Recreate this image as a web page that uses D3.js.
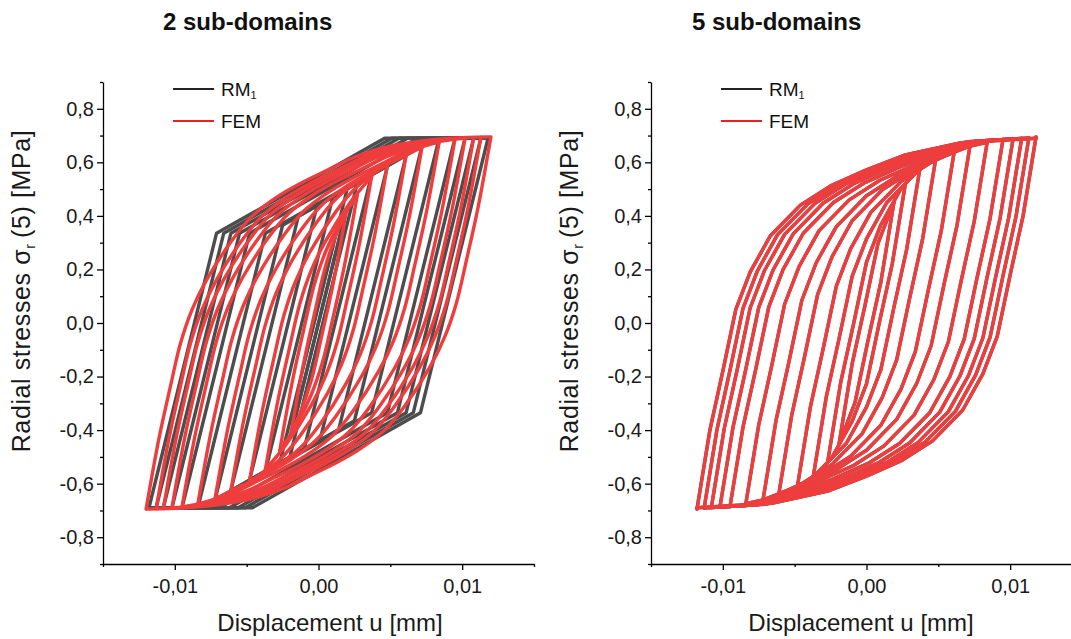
<!DOCTYPE html>
<html>
<head>
<meta charset="utf-8">
<script src="https://cdn.jsdelivr.net/npm/d3@7"></script>
<style>
body { margin: 0; background: #fff; }
svg { font-family: "Liberation Sans", Arial, sans-serif; }
</style>
</head>
<body>
<svg id="chart" width="1071" height="639"></svg>
<script>
/* Hysteresis loops: radial stress vs displacement, RM1 model against FEM */

// axes
var xDomain = [-0.015, 0.015];
var yDomain = [-0.9, 0.9];
var xMajor = [-0.01, 0, 0.01];
var xMinor = [-0.015, -0.005, 0.005, 0.015];
var yMajor = [-0.8, -0.6, -0.4, -0.2, 0, 0.2, 0.4, 0.6, 0.8];
var yMinor = [-0.9, -0.7, -0.5, -0.3, -0.1, 0.1, 0.3, 0.5, 0.7, 0.9];
var titles = ["2 sub-domains", "5 sub-domains"];
var seriesNames = ["RM", "FEM"];

// ---- 2 sub-domains, RM1 (piecewise linear) ----
var rm2Upper = [[-0.0118,-0.69],[-0.0071,0.335],[0.0046,0.69],[0.0118,0.69]];
var rm2Lower = [[-0.0118,-0.69],[-0.0046,-0.69],[0.0071,-0.335],[0.0118,0.69]];
var rm2Reload = [
	[[-0.0113,-0.69],[-0.0066,0.335],[0.0051,0.69],[0.0113,0.69]],
	[[-0.0108,-0.69],[-0.0061,0.335],[0.0056,0.69],[0.0108,0.69]],
	[[-0.0102,-0.69],[-0.0055,0.335],[0.0062,0.69],[0.0102,0.69]],
	[[-0.0095,-0.69],[-0.0048,0.335],[0.0069,0.69],[0.0095,0.69]],
	[[-0.0084,-0.69],[-0.0037,0.335],[0.0080,0.69],[0.0084,0.69]],
	[[-0.0072,-0.66],[-0.0025,0.365],[0.0072,0.66]],
	[[-0.0061,-0.626],[-0.0014,0.399],[0.0061,0.626]],
	[[-0.0048,-0.587],[-0.0001,0.438],[0.0048,0.587]],
	[[-0.0037,-0.554],[0.0010,0.471],[0.0037,0.554]],
	[[-0.0027,-0.523],[0.0020,0.502],[0.0027,0.523]],
	[[-0.0019,-0.415],[0.0019,0.415]]
];
var rm2Unload = [
	[[0.0113,0.69],[0.0066,-0.335],[-0.0051,-0.69],[-0.0113,-0.69]],
	[[0.0108,0.69],[0.0061,-0.335],[-0.0056,-0.69],[-0.0108,-0.69]],
	[[0.0102,0.69],[0.0055,-0.335],[-0.0062,-0.69],[-0.0102,-0.69]],
	[[0.0095,0.69],[0.0048,-0.335],[-0.0069,-0.69],[-0.0095,-0.69]],
	[[0.0084,0.69],[0.0037,-0.335],[-0.0080,-0.69],[-0.0084,-0.69]],
	[[0.0072,0.66],[0.0025,-0.365],[-0.0072,-0.66]],
	[[0.0061,0.626],[0.0014,-0.399],[-0.0061,-0.626]],
	[[0.0048,0.587],[0.0001,-0.438],[-0.0048,-0.587]],
	[[0.0037,0.554],[-0.0010,-0.471],[-0.0037,-0.554]],
	[[0.0027,0.523],[-0.0020,-0.502],[-0.0027,-0.523]],
	[[0.0019,0.415],[-0.0019,-0.415]]
];

// ---- 2 sub-domains, FEM ----
var fem2Upper = [[-0.0120,-0.695],[-0.0111,-0.43],[-0.0103,-0.235],[-0.0096,-0.075],[-0.0088,0.05],[-0.0078,0.16],
	[-0.0060,0.31],[-0.0046,0.40],[-0.0029,0.47],[-0.0013,0.52],[0.0006,0.57],[0.0024,0.617],[0.0045,0.654],
	[0.0068,0.677],[0.0093,0.69],[0.0119,0.695]];
var fem2Lower = [[-0.0119,-0.695],[-0.0093,-0.69],[-0.0068,-0.677],[-0.0045,-0.654],[-0.0024,-0.617],[-0.0006,-0.57],
	[0.0013,-0.52],[0.0029,-0.47],[0.0046,-0.40],[0.0060,-0.31],[0.0078,-0.16],[0.0088,-0.05],[0.0096,0.075],
	[0.0103,0.235],[0.0111,0.43],[0.0120,0.695]];
var fem2Reload = [
	[[-0.0113,-0.694],[-0.0104,-0.429],[-0.0096,-0.234],[-0.0089,-0.074],[-0.0081,0.051],[-0.0071,0.161],[-0.0053,0.311],[-0.0039,0.401],[-0.0022,0.471],[-0.0006,0.521],[0.0013,0.571],[0.0031,0.618],[0.0052,0.655],[0.0075,0.678]],
	[[-0.0108,-0.693],[-0.0099,-0.428],[-0.0091,-0.233],[-0.0084,-0.073],[-0.0076,0.052],[-0.0066,0.162],[-0.0048,0.312],[-0.0034,0.402],[-0.0017,0.472],[-0.0001,0.522],[0.0018,0.572],[0.0036,0.619],[0.0057,0.656],[0.0080,0.679]],
	[[-0.0102,-0.690],[-0.0093,-0.425],[-0.0085,-0.230],[-0.0078,-0.070],[-0.0070,0.055],[-0.0060,0.165],[-0.0042,0.315],[-0.0028,0.405],[-0.0011,0.475],[0.0005,0.525],[0.0024,0.575],[0.0042,0.622],[0.0063,0.659],[0.0086,0.682],[0.0102,0.690]],
	[[-0.0095,-0.687],[-0.0086,-0.422],[-0.0078,-0.227],[-0.0071,-0.067],[-0.0063,0.058],[-0.0053,0.168],[-0.0035,0.318],[-0.0021,0.408],[-0.0004,0.478],[0.0012,0.528],[0.0031,0.578],[0.0049,0.625],[0.0070,0.662],[0.0095,0.687]],
	[[-0.0084,-0.676],[-0.0075,-0.411],[-0.0067,-0.216],[-0.0060,-0.056],[-0.0052,0.069],[-0.0042,0.179],[-0.0024,0.329],[-0.0010,0.419],[0.0007,0.489],[0.0023,0.539],[0.0042,0.589],[0.0060,0.636],[0.0084,0.676]],
	[[-0.0072,-0.656],[-0.0063,-0.391],[-0.0055,-0.196],[-0.0048,-0.036],[-0.0040,0.089],[-0.0030,0.199],[-0.0012,0.349],[0.0002,0.439],[0.0019,0.509],[0.0035,0.559],[0.0054,0.609],[0.0072,0.656]],
	[[-0.0061,-0.627],[-0.0052,-0.362],[-0.0044,-0.167],[-0.0037,-0.007],[-0.0029,0.118],[-0.0019,0.228],[-0.0001,0.378],[0.0013,0.468],[0.0030,0.538],[0.0046,0.588],[0.0061,0.627]],
	[[-0.0048,-0.590],[-0.0039,-0.325],[-0.0031,-0.130],[-0.0024,0.030],[-0.0016,0.155],[-0.0006,0.265],[0.0012,0.415],[0.0026,0.505],[0.0043,0.575],[0.0048,0.590]],
	[[-0.0037,-0.548],[-0.0028,-0.283],[-0.0020,-0.088],[-0.0013,0.072],[-0.0005,0.197],[0.0005,0.307],[0.0023,0.457],[0.0037,0.547]],
	[[-0.0027,-0.478],[-0.0018,-0.213],[-0.0010,-0.018],[-0.0003,0.142],[0.0005,0.267],[0.0015,0.377],[0.0027,0.478]],
	[[-0.0019,-0.406],[-0.0010,-0.141],[-0.0002,0.054],[0.0005,0.214],[0.0013,0.339],[0.0019,0.406]]
];
var fem2Unload = [
	[[0.0113,0.694],[0.0104,0.429],[0.0096,0.234],[0.0089,0.074],[0.0081,-0.051],[0.0071,-0.161],[0.0053,-0.311],[0.0039,-0.401],[0.0022,-0.471],[0.0006,-0.521],[-0.0013,-0.571],[-0.0031,-0.618],[-0.0052,-0.655],[-0.0075,-0.678]],
	[[0.0108,0.693],[0.0099,0.428],[0.0091,0.233],[0.0084,0.073],[0.0076,-0.052],[0.0066,-0.162],[0.0048,-0.312],[0.0034,-0.402],[0.0017,-0.472],[0.0001,-0.522],[-0.0018,-0.572],[-0.0036,-0.619],[-0.0057,-0.656],[-0.0080,-0.679]],
	[[0.0102,0.690],[0.0093,0.425],[0.0085,0.230],[0.0078,0.070],[0.0070,-0.055],[0.0060,-0.165],[0.0042,-0.315],[0.0028,-0.405],[0.0011,-0.475],[-0.0005,-0.525],[-0.0024,-0.575],[-0.0042,-0.622],[-0.0063,-0.659],[-0.0086,-0.682],[-0.0102,-0.690]],
	[[0.0095,0.687],[0.0086,0.422],[0.0078,0.227],[0.0071,0.067],[0.0063,-0.058],[0.0053,-0.168],[0.0035,-0.318],[0.0021,-0.408],[0.0004,-0.478],[-0.0012,-0.528],[-0.0031,-0.578],[-0.0049,-0.625],[-0.0070,-0.662],[-0.0095,-0.687]],
	[[0.0084,0.676],[0.0075,0.411],[0.0067,0.216],[0.0060,0.056],[0.0052,-0.069],[0.0042,-0.179],[0.0024,-0.329],[0.0010,-0.419],[-0.0007,-0.489],[-0.0023,-0.539],[-0.0042,-0.589],[-0.0060,-0.636],[-0.0084,-0.676]],
	[[0.0072,0.656],[0.0063,0.391],[0.0055,0.196],[0.0048,0.036],[0.0040,-0.089],[0.0030,-0.199],[0.0012,-0.349],[-0.0002,-0.439],[-0.0019,-0.509],[-0.0035,-0.559],[-0.0054,-0.609],[-0.0072,-0.656]],
	[[0.0061,0.627],[0.0052,0.362],[0.0044,0.167],[0.0037,0.007],[0.0029,-0.118],[0.0019,-0.228],[0.0001,-0.378],[-0.0013,-0.468],[-0.0030,-0.538],[-0.0046,-0.588],[-0.0061,-0.627]],
	[[0.0048,0.590],[0.0039,0.325],[0.0031,0.130],[0.0024,-0.030],[0.0016,-0.155],[0.0006,-0.265],[-0.0012,-0.415],[-0.0026,-0.505],[-0.0043,-0.575],[-0.0048,-0.590]],
	[[0.0037,0.548],[0.0028,0.283],[0.0020,0.088],[0.0013,-0.072],[0.0005,-0.197],[-0.0005,-0.307],[-0.0023,-0.457],[-0.0037,-0.547]],
	[[0.0027,0.478],[0.0018,0.213],[0.0010,0.018],[0.0003,-0.142],[-0.0005,-0.267],[-0.0015,-0.377],[-0.0027,-0.478]],
	[[0.0019,0.406],[0.0010,0.141],[0.0002,-0.054],[-0.0005,-0.214],[-0.0013,-0.339],[-0.0019,-0.406]]
];

// ---- 5 sub-domains, FEM ----
var fem5Upper = [[-0.0118,-0.695],[-0.0109,-0.40],[-0.0100,-0.18],[-0.0091,0.05],[-0.0081,0.19],[-0.0067,0.325],
	[-0.0046,0.44],[-0.0025,0.512],[0.0000,0.572],[0.0027,0.628],[0.0066,0.673],[0.0118,0.69]];
var fem5Lower = [[-0.0118,-0.69],[-0.0066,-0.673],[-0.0027,-0.628],[0.0000,-0.572],[0.0025,-0.512],[0.0046,-0.44],
	[0.0067,-0.325],[0.0081,-0.19],[0.0091,-0.05],[0.0100,0.18],[0.0109,0.40],[0.0118,0.695]];
var fem5Reload = [
	[[-0.0113,-0.691],[-0.0104,-0.396],[-0.0095,-0.176],[-0.0086,0.054],[-0.0076,0.194],[-0.0062,0.329],[-0.0041,0.444],[-0.0020,0.516],[0.0005,0.576],[0.0032,0.632],[0.0071,0.677],[0.0113,0.691]],
	[[-0.0108,-0.689],[-0.0099,-0.394],[-0.0090,-0.174],[-0.0081,0.056],[-0.0071,0.196],[-0.0057,0.331],[-0.0036,0.446],[-0.0015,0.518],[0.0010,0.578],[0.0037,0.634],[0.0076,0.679],[0.0108,0.689]],
	[[-0.0102,-0.687],[-0.0093,-0.392],[-0.0084,-0.172],[-0.0075,0.058],[-0.0065,0.198],[-0.0051,0.333],[-0.0030,0.448],[-0.0009,0.520],[0.0016,0.580],[0.0043,0.636],[0.0082,0.681],[0.0102,0.687]],
	[[-0.0095,-0.685],[-0.0086,-0.390],[-0.0077,-0.170],[-0.0068,0.060],[-0.0058,0.200],[-0.0044,0.335],[-0.0023,0.450],[-0.0002,0.522],[0.0023,0.582],[0.0050,0.638],[0.0089,0.683],[0.0095,0.685]],
	[[-0.0084,-0.675],[-0.0075,-0.380],[-0.0066,-0.160],[-0.0057,0.070],[-0.0047,0.210],[-0.0033,0.345],[-0.0012,0.460],[0.0009,0.532],[0.0034,0.592],[0.0061,0.648],[0.0084,0.675]],
	[[-0.0072,-0.660],[-0.0063,-0.365],[-0.0054,-0.145],[-0.0045,0.085],[-0.0035,0.225],[-0.0021,0.360],[0.0000,0.475],[0.0021,0.547],[0.0046,0.607],[0.0072,0.660]],
	[[-0.0061,-0.638],[-0.0052,-0.343],[-0.0043,-0.123],[-0.0034,0.107],[-0.0024,0.247],[-0.0010,0.382],[0.0011,0.497],[0.0032,0.569],[0.0057,0.629],[0.0061,0.638]],
	[[-0.0048,-0.607],[-0.0039,-0.312],[-0.0030,-0.092],[-0.0021,0.138],[-0.0011,0.278],[0.0003,0.413],[0.0024,0.528],[0.0045,0.600],[0.0048,0.607]],
	[[-0.0037,-0.571],[-0.0028,-0.276],[-0.0019,-0.056],[-0.0010,0.174],[0.0000,0.314],[0.0014,0.449],[0.0035,0.564],[0.0037,0.571]],
	[[-0.0027,-0.518],[-0.0018,-0.223],[-0.0009,-0.003],[0.0000,0.227],[0.0010,0.367],[0.0024,0.502],[0.0027,0.518]],
	[[-0.0019,-0.448],[-0.0010,-0.153],[-0.0001,0.067],[0.0008,0.297],[0.0018,0.437],[0.0019,0.448]]
];
var fem5Unload = [
	[[0.0113,0.691],[0.0104,0.396],[0.0095,0.176],[0.0086,-0.054],[0.0076,-0.194],[0.0062,-0.329],[0.0041,-0.444],[0.0020,-0.516],[-0.0005,-0.576],[-0.0032,-0.632],[-0.0071,-0.677],[-0.0113,-0.691]],
	[[0.0108,0.689],[0.0099,0.394],[0.0090,0.174],[0.0081,-0.056],[0.0071,-0.196],[0.0057,-0.331],[0.0036,-0.446],[0.0015,-0.518],[-0.0010,-0.578],[-0.0037,-0.634],[-0.0076,-0.679],[-0.0108,-0.689]],
	[[0.0102,0.687],[0.0093,0.392],[0.0084,0.172],[0.0075,-0.058],[0.0065,-0.198],[0.0051,-0.333],[0.0030,-0.448],[0.0009,-0.520],[-0.0016,-0.580],[-0.0043,-0.636],[-0.0082,-0.681],[-0.0102,-0.687]],
	[[0.0095,0.685],[0.0086,0.390],[0.0077,0.170],[0.0068,-0.060],[0.0058,-0.200],[0.0044,-0.335],[0.0023,-0.450],[0.0002,-0.522],[-0.0023,-0.582],[-0.0050,-0.638],[-0.0089,-0.683],[-0.0095,-0.685]],
	[[0.0084,0.675],[0.0075,0.380],[0.0066,0.160],[0.0057,-0.070],[0.0047,-0.210],[0.0033,-0.345],[0.0012,-0.460],[-0.0009,-0.532],[-0.0034,-0.592],[-0.0061,-0.648],[-0.0084,-0.675]],
	[[0.0072,0.660],[0.0063,0.365],[0.0054,0.145],[0.0045,-0.085],[0.0035,-0.225],[0.0021,-0.360],[0.0000,-0.475],[-0.0021,-0.547],[-0.0046,-0.607],[-0.0072,-0.660]],
	[[0.0061,0.638],[0.0052,0.343],[0.0043,0.123],[0.0034,-0.107],[0.0024,-0.247],[0.0010,-0.382],[-0.0011,-0.497],[-0.0032,-0.569],[-0.0057,-0.629],[-0.0061,-0.638]],
	[[0.0048,0.607],[0.0039,0.312],[0.0030,0.092],[0.0021,-0.138],[0.0011,-0.278],[-0.0003,-0.413],[-0.0024,-0.528],[-0.0045,-0.600],[-0.0048,-0.607]],
	[[0.0037,0.571],[0.0028,0.276],[0.0019,0.056],[0.0010,-0.174],[0.0000,-0.314],[-0.0014,-0.449],[-0.0035,-0.564],[-0.0037,-0.571]],
	[[0.0027,0.518],[0.0018,0.223],[0.0009,0.003],[0.0000,-0.227],[-0.0010,-0.367],[-0.0024,-0.502],[-0.0027,-0.518]],
	[[0.0019,0.448],[0.0010,0.153],[0.0001,-0.067],[-0.0008,-0.297],[-0.0018,-0.437],[-0.0019,-0.448]]
];
// RM1 with 5 sub-domains lies on the FEM curves within a line width
var rm5Upper = fem5Upper, rm5Lower = fem5Lower, rm5Reload = fem5Reload, rm5Unload = fem5Unload;


var svg = d3.select("#chart");
var locale = d3.formatLocale({decimal: ",", thousands: ".", grouping: [3], currency: ["", ""], minus: "-"});
var fmtX = locale.format(".2f"), fmtY = locale.format(".1f");

var plotTop = 82, plotBottom = 564, plotWidth = 431;
var blackColor = "#4d4d4d", redColor = "#ef3d3d";

var panels = [
	{left: 103, titleX: 163, xTitleX: 330,
		rm: {upper: rm2Upper, lower: rm2Lower, reload: rm2Reload, unload: rm2Unload},
		fem: {upper: fem2Upper, lower: fem2Lower, reload: fem2Reload, unload: fem2Unload},
		femCurve: d3.curveCatmullRom.alpha(0.5)},
	{left: 651, titleX: 692, xTitleX: 861,
		rm: {upper: rm5Upper, lower: rm5Lower, reload: rm5Reload, unload: rm5Unload},
		fem: {upper: fem5Upper, lower: fem5Lower, reload: fem5Reload, unload: fem5Unload},
		femCurve: d3.curveLinear}
];

function drawSeries(g, s, x, y, curve, color) {
	var line = d3.line()
		.x(function(d) { return x(d[0]); })
		.y(function(d) { return y(d[1]); })
		.curve(curve);
	var paths = [s.upper, s.lower].concat(s.reload, s.unload);
	g.append("g").selectAll("path")
		.data(paths)
	  .enter().append("path")
		.attr("d", line)
		.attr("fill", "none")
		.attr("stroke", color)
		.attr("stroke-width", 3.4)
		.attr("stroke-linejoin", "round")
		.attr("stroke-linecap", "round");
}

panels.forEach(function(p, i) {
	var x = d3.scaleLinear().domain(xDomain).range([p.left, p.left + plotWidth]);
	var y = d3.scaleLinear().domain(yDomain).range([plotBottom, plotTop]);
	var g = svg.append("g");

	// curves: RM1 below, FEM on top
	drawSeries(g, p.rm, x, y, d3.curveLinear, blackColor);
	drawSeries(g, p.fem, x, y, p.femCurve, redColor);

	// minor ticks
	g.append("g")
		.attr("transform", "translate(0," + plotBottom + ")")
		.call(d3.axisBottom(x).tickValues(xMinor).tickSize(3).tickFormat(""))
		.call(function(a) { a.select(".domain").remove(); });
	g.append("g")
		.attr("transform", "translate(" + p.left + ",0)")
		.call(d3.axisLeft(y).tickValues(yMinor).tickSize(3).tickFormat(""))
		.call(function(a) { a.select(".domain").remove(); });

	// x axis
	g.append("g")
		.attr("class", "x axis")
		.attr("transform", "translate(0," + plotBottom + ")")
		.call(d3.axisBottom(x).tickValues(xMajor).tickSize(6).tickSizeOuter(0).tickPadding(9).tickFormat(fmtX));
	// y axis
	g.append("g")
		.attr("class", "y axis")
		.attr("transform", "translate(" + p.left + ",0)")
		.call(d3.axisLeft(y).tickValues(yMajor).tickSize(6).tickSizeOuter(0).tickPadding(3).tickFormat(fmtY));

	g.selectAll(".axis path, .axis line, g line").attr("stroke", "#000").attr("stroke-width", 1.3);
	g.selectAll(".axis text").attr("font-size", 20).attr("fill", "#1a1a1a")
		.attr("font-family", "'Liberation Sans', Arial, sans-serif");

	// title
	g.append("text")
		.attr("x", p.titleX)
		.attr("y", 30)
		.attr("font-size", 24)
		.attr("font-weight", "bold")
		.attr("fill", "#111")
		.text(titles[i]);

	// x title
	g.append("text")
		.attr("x", p.xTitleX)
		.attr("y", 631)
		.attr("text-anchor", "middle")
		.attr("font-size", 24)
		.attr("fill", "#1a1a1a")
		.text("Displacement u [mm]");

	// y title
	var yt = g.append("text")
		.attr("transform", "translate(" + (p.left - 73) + ",291) rotate(-90)")
		.attr("text-anchor", "middle")
		.attr("font-size", 25)
		.attr("letter-spacing", 0.6)
		.attr("fill", "#1a1a1a");
	yt.append("tspan").text("Radial stresses \u03c3");
	yt.append("tspan").attr("font-size", 14).attr("dy", 5).text("r");
	yt.append("tspan").attr("dy", -5).text("\u2009(5) [MPa]");

	// legend
	var lg = g.append("g").attr("transform", "translate(" + (p.left + 70) + ",0)");
	var legendRows = [{name: seriesNames[0], sub: "1", color: "#222", y: 89},
		{name: seriesNames[1], sub: null, color: "#f01e1e", y: 121}];
	legendRows.forEach(function(r) {
		lg.append("line")
			.attr("x1", 0).attr("x2", 41)
			.attr("y1", r.y).attr("y2", r.y)
			.attr("stroke", r.color).attr("stroke-width", 2);
		var t = lg.append("text")
			.attr("x", 48).attr("y", r.y + 7)
			.attr("font-size", 19)
			.attr("fill", "#111")
			.text(r.name);
		if (r.sub) {
			t.append("tspan").attr("font-size", 11).attr("dy", 3).text(r.sub);
		}
	});
});
</script>
</body>
</html>
